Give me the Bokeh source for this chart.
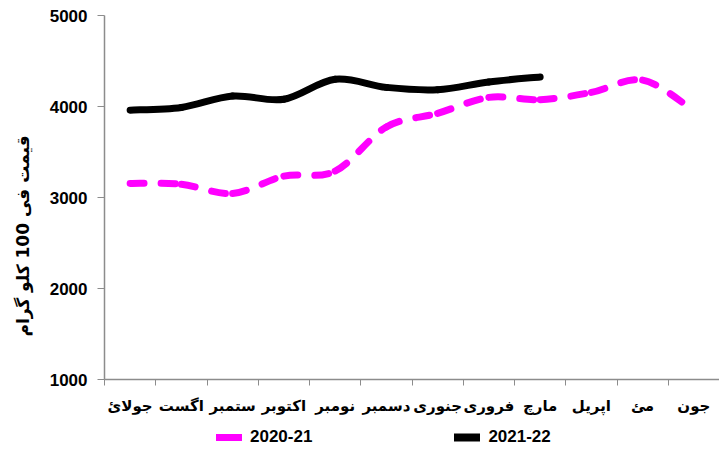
import math
from bokeh.plotting import figure
from bokeh.layouts import column
from bokeh.models import (Range1d, FixedTicker, Legend, LegendItem,
                          ColumnDataSource)
from bokeh.embed import file_html
from bokeh.resources import INLINE

months = ["جولائ", "اگست", "ستمبر", "اکتوبر", "نومبر", "دسمبر",
          "جنوری", "فروری", "مارچ", "اپریل", "مئ", "جون"]
series_2020_21 = [3155, 3145, 3045, 3235, 3290, 3775, 3925, 4100, 4075, 4155, 4290, 3955]
series_2021_22 = [3960, 3990, 4115, 4080, 4300, 4210, 4185, 4270, 4325]
y_ticks = [1000, 2000, 3000, 4000, 5000]
y_title = "قیمت فی 100 کلو گرام"
legend_labels = ["2020-21", "2021-22"]

MAGENTA = "#ff00ff"
AXIS_COL = "#8c8c8c"
LATIN = "Liberation Sans"
URDU = "DejaVu Sans"

W = 719
p = figure(width=W, height=422, output_backend="svg", toolbar_location=None,
           x_range=Range1d(0, len(months)), y_range=Range1d(1000, 5000),
           min_border_left=104, min_border_right=0, min_border_top=15,
           min_border_bottom=43)
p.outline_line_color = None
p.xgrid.visible = False
p.ygrid.visible = False
p.background_fill_color = "white"
p.border_fill_color = "white"


def smooth_segments(vals, t=1/6):
    xs = [i + 0.5 for i in range(len(vals))]
    n = len(vals)
    d = dict(x0=[], y0=[], x1=[], y1=[], cx0=[], cy0=[], cx1=[], cy1=[])
    for i in range(n - 1):
        a = max(i - 1, 0)
        b = min(i + 2, n - 1)
        d["x0"].append(xs[i]); d["y0"].append(vals[i])
        d["x1"].append(xs[i + 1]); d["y1"].append(vals[i + 1])
        d["cx0"].append(xs[i] + (xs[i + 1] - xs[a]) * t)
        d["cy0"].append(vals[i] + (vals[i + 1] - vals[a]) * t)
        d["cx1"].append(xs[i + 1] - (xs[b] - xs[i]) * t)
        d["cy1"].append(vals[i + 1] - (vals[b] - vals[i]) * t)
    return ColumnDataSource(d)


p.bezier(x0="x0", y0="y0", x1="x1", y1="y1", cx0="cx0", cy0="cy0",
         cx1="cx1", cy1="cy1", source=smooth_segments(series_2020_21),
         line_color=MAGENTA, line_width=7, line_dash="14 17", line_cap="round")
p.bezier(x0="x0", y0="y0", x1="x1", y1="y1", cx0="cx0", cy0="cy0",
         cx1="cx1", cy1="cy1", source=smooth_segments(series_2021_22),
         line_color="black", line_width=7, line_cap="round")

# x axis
xa = p.xaxis[0]
centers = [i + 0.5 for i in range(len(months))]
xa.ticker = FixedTicker(ticks=centers, minor_ticks=list(range(len(months) + 1)))
xa.major_label_overrides = {c: m for c, m in zip(centers, months)}
xa.major_tick_in = 0
xa.major_tick_out = 0
xa.minor_tick_in = 0
xa.minor_tick_out = 6
xa.minor_tick_line_color = AXIS_COL
xa.axis_line_color = AXIS_COL
xa.axis_line_width = 1.5
xa.major_label_standoff = 11
xa.major_label_text_font = URDU
xa.major_label_text_font_size = "15px"
xa.major_label_text_font_style = "bold"
xa.major_label_text_color = "black"

# y axis
ya = p.yaxis[0]
ya.ticker = FixedTicker(ticks=y_ticks, minor_ticks=[])
ya.major_tick_in = 0
ya.major_tick_out = 7
ya.major_tick_line_color = AXIS_COL
ya.axis_line_color = AXIS_COL
ya.axis_line_width = 1.5
ya.major_label_standoff = 10
ya.major_label_text_font = LATIN
ya.major_label_text_font_size = "17px"
ya.major_label_text_font_style = "bold"
ya.major_label_text_color = "black"

ya.axis_label = y_title + "\u00a0" * 13
ya.axis_label_standoff = 14
ya.axis_label_text_font = URDU
ya.axis_label_text_font_size = "17px"
ya.axis_label_text_font_style = "bold"
ya.axis_label_text_color = "black"

# legend strip below the chart
lf = figure(width=W, height=31, output_backend="svg", toolbar_location=None,
            x_range=Range1d(0, 1), y_range=Range1d(0, 1),
            min_border=0, x_axis_type=None, y_axis_type=None)
lf.outline_line_color = None
lf.xgrid.visible = False
lf.ygrid.visible = False
nan = float("nan")
lg1 = lf.line([nan], [nan], line_color=MAGENTA, line_width=7, line_cap="round")
lg2 = lf.line([nan], [nan], line_color="black", line_width=8, line_cap="round")
legend = Legend(items=[LegendItem(label=legend_labels[0], renderers=[lg1]),
                       LegendItem(label=legend_labels[1], renderers=[lg2])],
                orientation="horizontal", location=(112, 6),
                border_line_alpha=0, background_fill_alpha=0,
                label_text_font=LATIN, label_text_font_size="17px",
                label_text_font_style="bold", label_text_color="black",
                glyph_width=26, glyph_height=18, label_height=18,
                label_standoff=8, spacing=142, padding=0, margin=0)
lf.add_layout(legend, "center")

layout = column(p, lf, spacing=0)
open("out.html", "w").write(file_html(layout, INLINE))
